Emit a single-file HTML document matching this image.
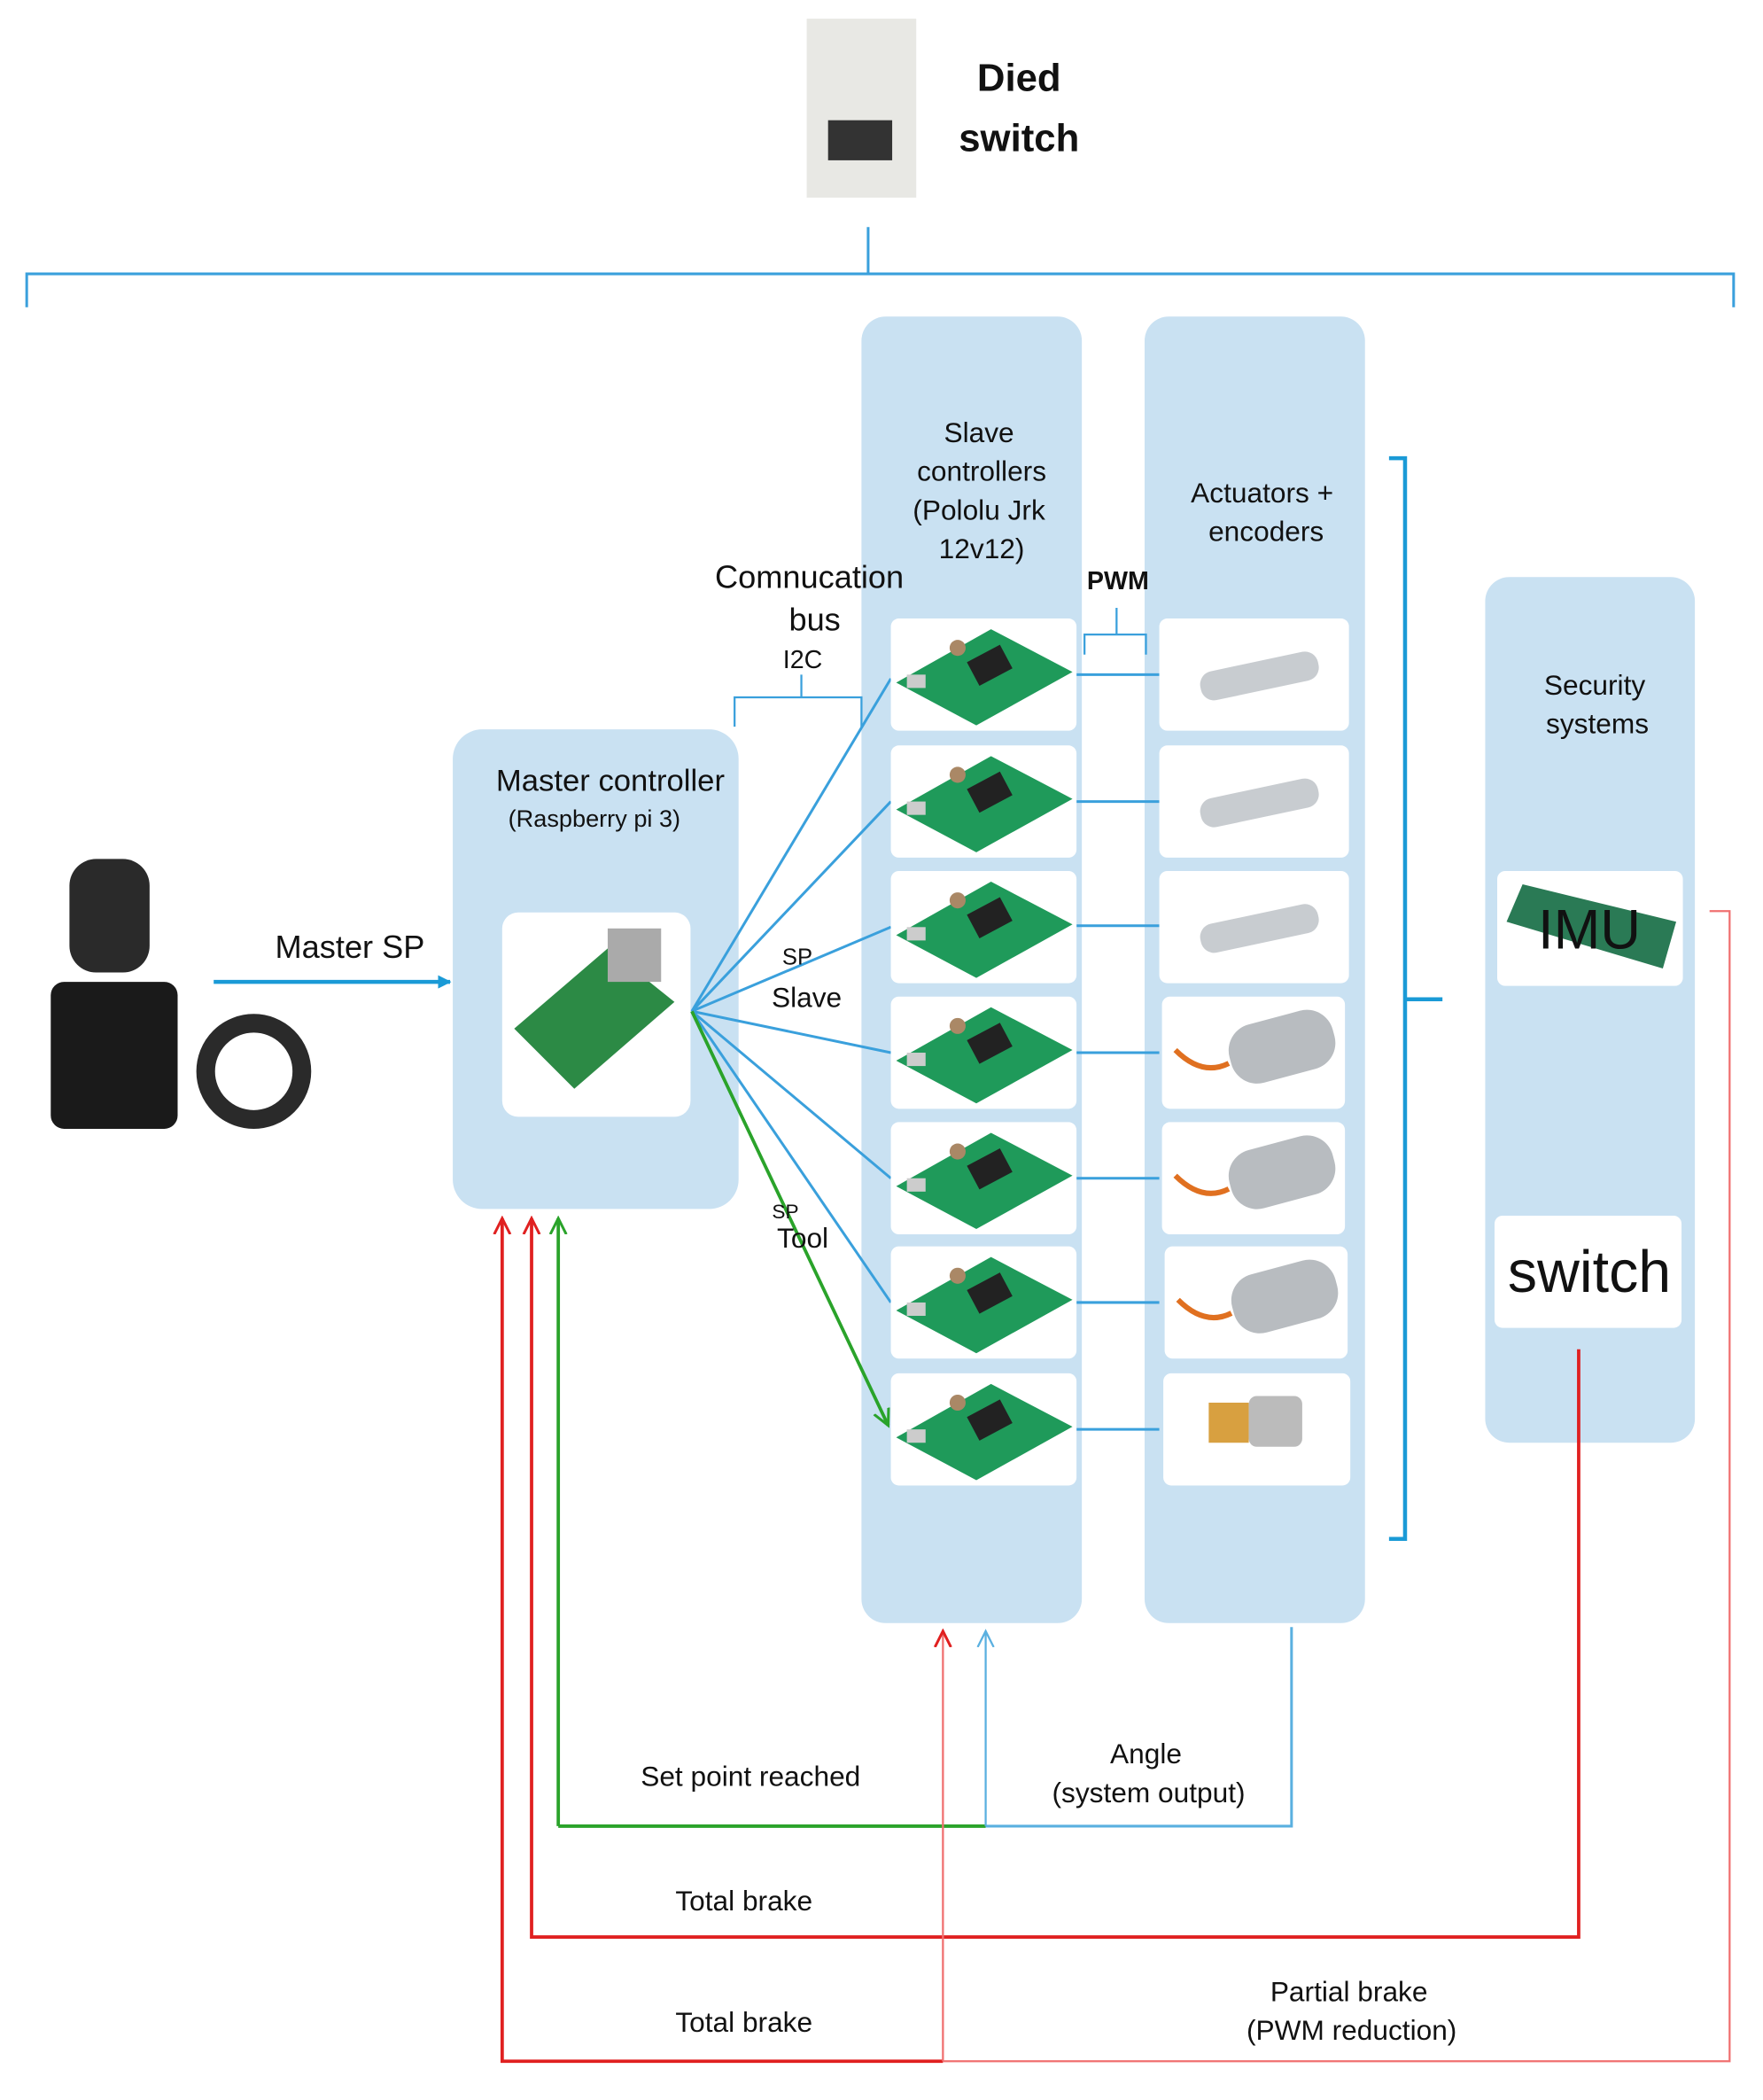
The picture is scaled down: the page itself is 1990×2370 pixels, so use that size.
<!DOCTYPE html>
<html><head><meta charset="utf-8"><style>
html,body{margin:0;padding:0;background:#fff}
svg{display:block}
text{font-family:"Liberation Sans",sans-serif;fill:#111}
</style></head><body>
<svg width="1990" height="2370" viewBox="0 0 1320 1572" preserveAspectRatio="none" xmlns="http://www.w3.org/2000/svg">
<defs>
<marker id="ab" markerWidth="10" markerHeight="10" refX="9" refY="5" orient="auto" markerUnits="userSpaceOnUse"><path d="M0,0 L10,5 L0,10 z" fill="#1a9ad6"/></marker>
<marker id="ag" markerWidth="14" markerHeight="14" refX="12" refY="7" orient="auto" markerUnits="userSpaceOnUse"><path d="M0,1 L12,7 L0,13" fill="none" stroke="#2aa32a" stroke-width="2"/></marker>
<marker id="ar" markerWidth="14" markerHeight="14" refX="12" refY="7" orient="auto" markerUnits="userSpaceOnUse"><path d="M0,1 L12,7 L0,13" fill="none" stroke="#e02020" stroke-width="2"/></marker>
<marker id="alb" markerWidth="14" markerHeight="14" refX="12" refY="7" orient="auto" markerUnits="userSpaceOnUse"><path d="M0,1 L12,7 L0,13" fill="none" stroke="#5ab0e0" stroke-width="1.5"/></marker>
<g id="board"><rect x="0" y="0" width="139" height="84" rx="6" fill="#fff"/><path d="M4,48 L75,8 L136,40 L64,80 z" fill="#1f9a5a"/><rect x="60" y="25" width="28" height="20" fill="#222" transform="rotate(-28 74 35)"/><rect x="12" y="42" width="14" height="10" fill="#ccc"/><circle cx="50" cy="22" r="6" fill="#a86"/></g>
<g id="motor"><rect x="0" y="0" width="142" height="84" rx="6" fill="#fff"/><rect x="30" y="32" width="90" height="22" rx="10" fill="#c8ccd0" transform="rotate(-12 75 43)"/></g>
<g id="gmotor"><rect x="0" y="0" width="137" height="84" rx="6" fill="#fff"/><rect x="50" y="15" width="80" height="45" rx="20" fill="#b8bcc0" transform="rotate(-15 90 38)"/><path d="M10,40 q20,20 40,10" stroke="#e07020" stroke-width="4" fill="none"/></g>
</defs>
<!-- top -->
<rect x="604" y="14" width="82" height="134" fill="#e8e8e4"/>
<rect x="620" y="90" width="48" height="30" fill="#333"/>
<text x="763" y="68" font-size="29" font-weight="bold" text-anchor="middle">Died</text>
<text x="763" y="113" font-size="29" font-weight="bold" text-anchor="middle">switch</text>
<path d="M20,230 L20,205 L1298,205 L1298,230 M650,205 L650,170" stroke="#3aa0dc" stroke-width="2" fill="none"/>
<!-- panels -->
<rect x="645" y="237" width="165" height="978" rx="18" fill="#c9e1f2"/>
<rect x="857" y="237" width="165" height="978" rx="18" fill="#c9e1f2"/>
<rect x="1112" y="432" width="157" height="648" rx="18" fill="#c9e1f2"/>
<rect x="339" y="546" width="214" height="359" rx="22" fill="#c9e1f2"/>
<text font-size="21" text-anchor="middle"><tspan x="733" y="331">Slave</tspan><tspan x="735" y="360">controllers</tspan><tspan x="733" y="389">(Pololu Jrk</tspan><tspan x="735" y="418">12v12)</tspan></text>
<text font-size="21" text-anchor="middle"><tspan x="945" y="376">Actuators +</tspan><tspan x="948" y="405">encoders</tspan></text>
<text font-size="21" text-anchor="middle"><tspan x="1194" y="520">Security</tspan><tspan x="1196" y="549">systems</tspan></text>
<text x="457" y="592" font-size="23" text-anchor="middle">Master controller</text>
<text x="445" y="619" font-size="18" text-anchor="middle">(Raspberry pi 3)</text>
<rect x="376" y="683" width="141" height="153" rx="12" fill="#fff"/>
<path d="M385,770 L455,710 L505,750 L430,815 z" fill="#2c8a45"/><rect x="455" y="695" width="40" height="40" fill="#aaa"/>
<text font-size="24" text-anchor="middle"><tspan x="606" y="440">Comnucation</tspan><tspan x="610" y="472">bus</tspan></text>
<text x="601" y="500" font-size="19" text-anchor="middle">I2C</text>
<text x="837" y="441" font-size="19" font-weight="bold" text-anchor="middle">PWM</text>
<path d="M550,544 L550,522 L645,522 L645,544 M600,522 L600,505" stroke="#3aa0dc" stroke-width="1.5" fill="none"/>
<path d="M812,490 L812,475 L858,475 L858,490 M836,475 L836,455" stroke="#3aa0dc" stroke-width="1.5" fill="none"/>
<!-- joystick -->
<rect x="52" y="643" width="60" height="85" rx="20" fill="#2a2a2a"/>
<rect x="38" y="735" width="95" height="110" rx="10" fill="#1a1a1a"/>
<circle cx="190" cy="802" r="36" fill="none" stroke="#2a2a2a" stroke-width="14"/>
<line x1="160" y1="735" x2="337" y2="735" stroke="#1a9ad6" stroke-width="3" marker-end="url(#ab)"/>
<text x="262" y="717" font-size="24" text-anchor="middle">Master SP</text>
<!-- rows -->
<g stroke="#3aa0dc" stroke-width="2" fill="none">
<line x1="518" y1="757" x2="667" y2="508"/><line x1="518" y1="757" x2="667" y2="600"/><line x1="518" y1="757" x2="667" y2="694"/><line x1="518" y1="757" x2="667" y2="788"/><line x1="518" y1="757" x2="667" y2="882"/><line x1="518" y1="757" x2="667" y2="975"/>
<line x1="806" y1="505" x2="868" y2="505"/><line x1="806" y1="600" x2="868" y2="600"/><line x1="806" y1="693" x2="868" y2="693"/><line x1="806" y1="788" x2="868" y2="788"/><line x1="806" y1="882" x2="868" y2="882"/><line x1="806" y1="975" x2="868" y2="975"/><line x1="806" y1="1070" x2="868" y2="1070"/>
</g>
<line x1="518" y1="757" x2="665" y2="1067" stroke="#2aa32a" stroke-width="2.5" marker-end="url(#ag)"/>
<text x="597" y="722" font-size="17" text-anchor="middle">SP</text><text x="604" y="754" font-size="21" text-anchor="middle">Slave</text>
<text x="588" y="912" font-size="15" text-anchor="middle">SP</text><text x="601" y="934" font-size="21" text-anchor="middle">Tool</text>
<use href="#board" x="667" y="463"/><use href="#board" x="667" y="558"/><use href="#board" x="667" y="652"/><use href="#board" x="667" y="746"/><use href="#board" x="667" y="840"/><use href="#board" x="667" y="933"/><use href="#board" x="667" y="1028"/>
<use href="#motor" x="868" y="463"/><use href="#motor" x="868" y="558"/><use href="#motor" x="868" y="652"/>
<use href="#gmotor" x="870" y="746"/><use href="#gmotor" x="870" y="840"/><use href="#gmotor" x="872" y="933"/>
<rect x="871" y="1028" width="140" height="84" rx="6" fill="#fff"/><rect x="905" y="1050" width="30" height="30" fill="#d8a040"/><rect x="935" y="1045" width="40" height="38" rx="6" fill="#bbb"/>
<path d="M1040,343 L1052,343 L1052,1152 L1040,1152 M1052,748 L1080,748" stroke="#1a9ad6" stroke-width="3" fill="none"/>
<!-- security -->
<rect x="1121" y="652" width="139" height="86" rx="6" fill="#fff"/><path d="M1128,690 L1140,662 L1255,690 L1245,725 z" fill="#2a7a55"/>
<text x="1190" y="710" font-size="42" text-anchor="middle" fill="#000">IMU</text>
<rect x="1119" y="910" width="140" height="84" rx="6" fill="#fff"/>
<text x="1190" y="967" font-size="44" text-anchor="middle">switch</text>
<!-- feedback -->
<path d="M418,1367 L418,912" stroke="#2aa32a" stroke-width="2.5" fill="none" marker-end="url(#ag)"/>
<path d="M418,1367 L738,1367" stroke="#2aa32a" stroke-width="2.5" fill="none"/>
<path d="M738,1367 L967,1367 L967,1218" stroke="#5ab0e0" stroke-width="2" fill="none"/>
<path d="M738,1367 L738,1221" stroke="#5ab0e0" stroke-width="1.5" fill="none" marker-end="url(#alb)"/>
<path d="M1182,1010 L1182,1450 L398,1450 L398,912" stroke="#e02020" stroke-width="2.5" fill="none" marker-end="url(#ar)"/>
<path d="M706,1543 L376,1543 L376,912" stroke="#e02020" stroke-width="2.5" fill="none" marker-end="url(#ar)"/>
<path d="M706,1543 L706,1221" stroke="#f07070" stroke-width="1.5" fill="none" marker-end="url(#ar)"/>
<path d="M706,1543 L1295,1543 L1295,682 L1280,682" stroke="#f07070" stroke-width="1.5" fill="none"/>
<text x="562" y="1337" font-size="21" text-anchor="middle">Set point reached</text>
<text font-size="21" text-anchor="middle"><tspan x="858" y="1320">Angle</tspan><tspan x="860" y="1349">(system output)</tspan></text>
<text x="557" y="1430" font-size="21" text-anchor="middle">Total brake</text>
<text x="557" y="1521" font-size="21" text-anchor="middle">Total brake</text>
<text font-size="21" text-anchor="middle"><tspan x="1010" y="1498">Partial brake</tspan><tspan x="1012" y="1527">(PWM reduction)</tspan></text>
</svg>
</body></html>
